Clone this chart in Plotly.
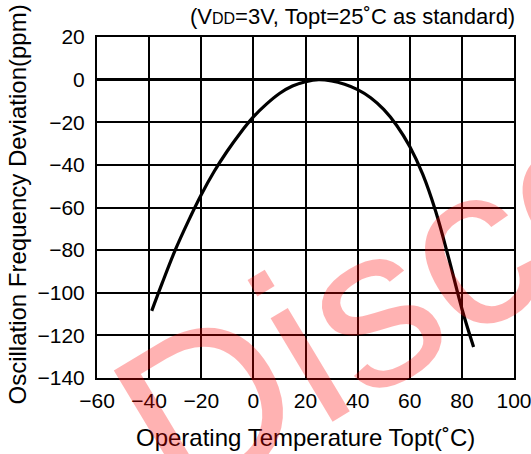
import plotly.graph_objects as go

# Frequency deviation vs. operating temperature (Topt = 25 °C reference)
temperature_c = [-39, -35, -30, -25, -20, -15, -10, -5, 0, 5, 10, 15, 20, 25,
                 30, 35, 40, 45, 50, 55, 60, 65, 70, 75, 80, 84.5]
deviation_ppm = [-108.5, -95.5, -80, -66.5, -54, -43, -33.5, -25, -17.5, -11.5, -6.5, -3, -1, 0,
                 -0.6, -2.2, -4.7, -8.5, -14, -21.5, -31.4, -44.5, -62, -84, -107.5, -125.5]

x_ticks = [-60, -40, -20, 0, 20, 40, 60, 80, 100]
y_ticks = [20, 0, -20, -40, -60, -80, -100, -120, -140]

FONT = "Arial, Liberation Sans, sans-serif"

fig = go.Figure()
fig.add_trace(go.Scatter(
    x=temperature_c, y=deviation_ppm, mode="lines",
    line=dict(color="black", width=3.2, shape="spline", smoothing=1),
    hoverinfo="skip", showlegend=False,
))

fig.update_layout(
    width=531, height=454,
    margin=dict(l=97, r=17, t=37, b=76, autoexpand=False),
    paper_bgcolor="white", plot_bgcolor="white",
    font=dict(family=FONT, color="black"),
    showlegend=False,
)

axis_common = dict(
    showgrid=True, gridcolor="black", gridwidth=1.6,
    showline=True, linecolor="black", linewidth=2, mirror=True,
    ticks="", tickfont=dict(size=21, family=FONT, color="black"),
    ticklabeloverflow="allow", automargin=False,
)
fig.update_xaxes(range=[-60, 100], tickvals=x_ticks, zeroline=False,
                 ticklabelstandoff=3, **axis_common)
fig.update_yaxes(range=[-140, 20], tickvals=y_ticks, zeroline=True,
                 zerolinecolor="black", zerolinewidth=3,
                 ticklabelstandoff=6, **axis_common)

annotations = [
    dict(text="Operating Temperature Topt(˚C)", xref="paper", yref="paper",
         x=0.5, y=0, yshift=-59, showarrow=False, xanchor="center", yanchor="middle",
         font=dict(size=24, family=FONT)),
    dict(text="Oscillation Frequency Deviation(ppm)", xref="paper", yref="paper",
         x=0, xshift=-80, y=0.5, yshift=3, showarrow=False, textangle=-90,
         xanchor="center", yanchor="middle", font=dict(size=24, family=FONT)),
    dict(text="(V<span style='font-size:16px'>DD</span>=3V, Topt=25˚C as standard)",
         xref="paper", yref="paper", x=1, xshift=3, y=1, yshift=21,
         showarrow=False, xanchor="right", yanchor="middle",
         font=dict(size=22, family=FONT)),
    # watermark overlay
    dict(text="Disco", xref="paper", yref="paper", x=0.683, y=0.229,
         showarrow=False, textangle=-31, xanchor="center", yanchor="middle",
         font=dict(size=228, family=FONT, color="rgba(255,0,0,0.3)")),
]
fig.update_layout(annotations=annotations)

fig.write_html("out.html")
